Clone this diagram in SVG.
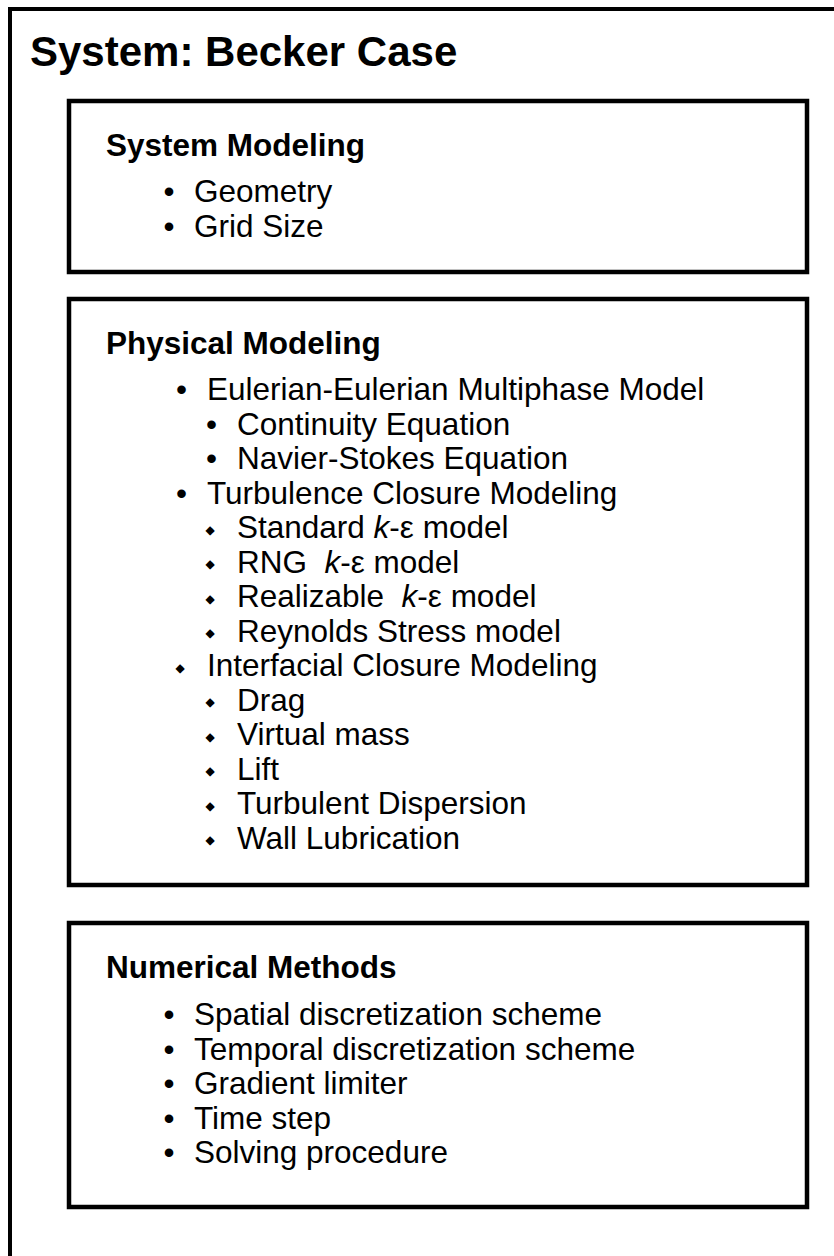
<svg xmlns="http://www.w3.org/2000/svg" width="834" height="1256" viewBox="0 0 834 1256">
<style>
.frame{fill:none;stroke:#000;stroke-width:4}
.box{fill:#fff;stroke:#000;stroke-width:4.5}
.title{font-family:"Liberation Sans",Arial,sans-serif;font-weight:bold;font-size:42px;fill:#000}
.head{font-family:"Liberation Sans",Arial,sans-serif;font-weight:bold;font-size:31.5px;fill:#000}
.t{font-family:"Liberation Sans",Arial,sans-serif;font-size:31.5px;fill:#000;white-space:pre}
.b{font-family:"Liberation Sans",Arial,sans-serif;font-size:31.5px;fill:#000;text-anchor:middle}
.d{font-family:"DejaVu Sans",sans-serif;font-size:12px;fill:#000;text-anchor:middle}
</style>
<rect width="834" height="1256" fill="#fff"/>
<g id="system">
<rect class="frame" x="10" y="9" width="900" height="1300"/>
<text class="title" x="30" y="66">System: Becker Case</text>
</g>
<g id="system-modeling">
<rect class="box" x="69" y="101" width="738" height="171"/>
<text class="head" x="106" y="156">System Modeling</text>
<text class="b" x="169" y="202">•</text><text class="t" x="194" y="202">Geometry</text>
<text class="b" x="169" y="237">•</text><text class="t" x="194" y="237">Grid Size</text>
</g>
<g id="physical-modeling">
<rect class="box" x="69" y="299" width="738" height="586"/>
<text class="head" x="106" y="354">Physical Modeling</text>
<text class="b" x="181.5" y="400">•</text><text class="t" x="207" y="400">Eulerian-Eulerian Multiphase Model</text>
<text class="b" x="211.5" y="434.5">•</text><text class="t" x="237" y="434.5">Continuity Equation</text>
<text class="b" x="211.5" y="469">•</text><text class="t" x="237" y="469">Navier-Stokes Equation</text>
<text class="b" x="181.5" y="503.5">•</text><text class="t" x="207" y="503.5">Turbulence Closure Modeling</text>
<text class="d" x="210" y="533.5">◆</text><text class="t" x="237" y="538">Standard <tspan font-style="italic">k</tspan>-ε model</text>
<text class="d" x="210" y="568">◆</text><text class="t" x="237" y="572.5">RNG  <tspan font-style="italic">k</tspan>-ε model</text>
<text class="d" x="210" y="602.5">◆</text><text class="t" x="237" y="607">Realizable  <tspan font-style="italic">k</tspan>-ε model</text>
<text class="d" x="210" y="637">◆</text><text class="t" x="237" y="641.5">Reynolds Stress model</text>
<text class="d" x="180" y="671.5">◆</text><text class="t" x="207" y="676">Interfacial Closure Modeling</text>
<text class="d" x="210" y="706">◆</text><text class="t" x="237" y="710.5">Drag</text>
<text class="d" x="210" y="740.5">◆</text><text class="t" x="237" y="745">Virtual mass</text>
<text class="d" x="210" y="775">◆</text><text class="t" x="237" y="779.5">Lift</text>
<text class="d" x="210" y="809.5">◆</text><text class="t" x="237" y="814">Turbulent Dispersion</text>
<text class="d" x="210" y="844">◆</text><text class="t" x="237" y="848.5">Wall Lubrication</text>
</g>
<g id="numerical-methods">
<rect class="box" x="69" y="923" width="738" height="284"/>
<text class="head" x="106" y="978">Numerical Methods</text>
<text class="b" x="169" y="1025">•</text><text class="t" x="194" y="1025">Spatial discretization scheme</text>
<text class="b" x="169" y="1059.5">•</text><text class="t" x="194" y="1059.5">Temporal discretization scheme</text>
<text class="b" x="169" y="1094">•</text><text class="t" x="194" y="1094">Gradient limiter</text>
<text class="b" x="169" y="1128.5">•</text><text class="t" x="194" y="1128.5">Time step</text>
<text class="b" x="169" y="1163">•</text><text class="t" x="194" y="1163">Solving procedure</text>
</g>
<g id="connectors"/>
</svg>
